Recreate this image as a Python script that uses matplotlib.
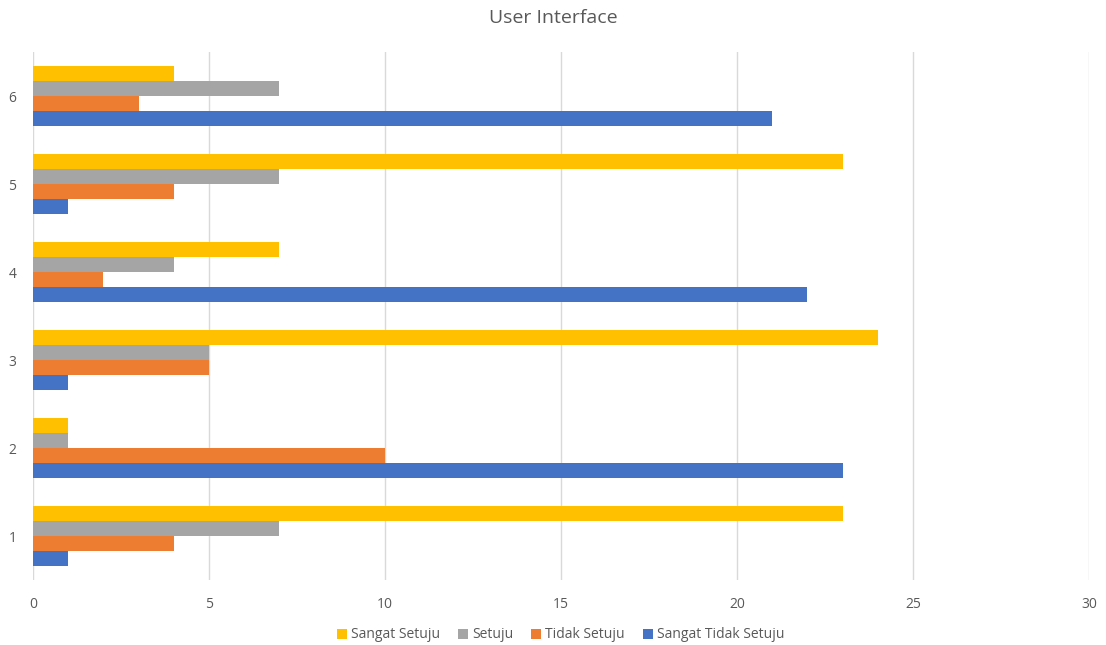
import matplotlib
matplotlib.use("Agg")
import matplotlib.pyplot as plt
import numpy as np

categories = ["1", "2", "3", "4", "5", "6"]
sangat_tidak_setuju = [1, 23, 1, 22, 1, 21]
tidak_setuju = [4, 10, 5, 2, 4, 3]
setuju = [7, 1, 5, 4, 7, 7]
sangat_setuju = [23, 1, 24, 7, 23, 4]

series = [
    ("Sangat Tidak Setuju", sangat_tidak_setuju, "#4472C4"),
    ("Tidak Setuju", tidak_setuju, "#ED7D31"),
    ("Setuju", setuju, "#A5A5A5"),
    ("Sangat Setuju", sangat_setuju, "#FFC000"),
]

plt.rcParams['font.family'] = ['Open Sans', 'DejaVu Sans']
text_color = "#595959"

fig = plt.figure(figsize=(11.06, 6.45), dpi=100)
ax = fig.add_axes([33/1106, 1 - 580/645, (1089 - 33)/1106, (580 - 52)/645])

y = np.arange(len(categories))
group_w = 0.68
bh = group_w / len(series)
handles = []
for i, (name, vals, col) in enumerate(series):
    offs = -group_w/2 + bh*(i + 0.5)
    h = ax.barh(y + offs, vals, height=bh, color=col, label=name, zorder=3)
    handles.append(h)

ax.set_xlim(0, 30)
ax.set_ylim(-0.5, len(categories) - 0.5)
ax.set_xticks(np.arange(0, 31, 5))
ax.set_yticks(y)
ax.set_yticklabels(categories)
ax.xaxis.grid(True, color="#D9D9D9", linewidth=1, zorder=0)
ax.set_axisbelow(True)
for s in ax.spines.values():
    s.set_visible(False)
ax.tick_params(axis='both', length=0, colors=text_color, labelsize=10)
ax.tick_params(axis='x', pad=12)
ax.tick_params(axis='y', pad=12)

fig.text(0.5, 1 - 18/645, "User Interface", ha='center', va='center',
         fontsize=14, color=text_color)

leg = fig.legend(handles=handles[::-1], labels=[s[0] for s in series][::-1],
                 loc='center', bbox_to_anchor=(0.507, 1 - 635/645), ncol=4,
                 frameon=False, fontsize=10, handlelength=0.7, handleheight=0.7,
                 handletextpad=0.3, columnspacing=1.3)
for t in leg.get_texts():
    t.set_color(text_color)

fig.savefig("out.png", dpi=100)
